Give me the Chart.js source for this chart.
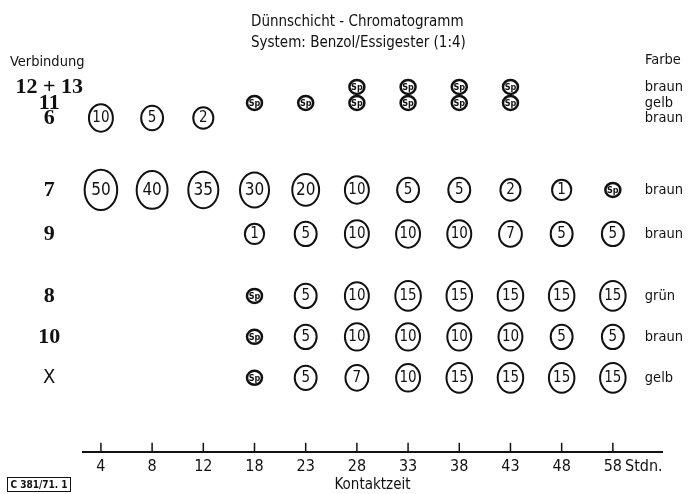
<!DOCTYPE html>
<html>
<head>
<meta charset="utf-8">
<script src="https://cdn.jsdelivr.net/npm/chart.js@4.4.1/dist/chart.umd.min.js"></script>
<style>
  body { margin: 0; background: #fff; }
</style>
</head>
<body>
<canvas id="tlc" width="689" height="494"></canvas>
<script>
// Kontaktzeit in Stunden
const times = ['4', '8', '12', '18', '23', '28', '33', '38', '43', '48', '58'];
const compounds = ['12 + 13', '11', '6', '7', '9', '8', '10', 'X'];
const colours = ['braun', 'gelb', 'braun', 'braun', 'braun', 'grün', 'braun', 'gelb'];
// Laufhöhe der Flecken auf der Platte (0 = Start, 100 = Front)
const rowRf = [91.25, 87.25, 83.5, 65.5, 54.5, 39, 28.75, 18.5];

// Fleckengröße je Kontaktzeit, 'Sp' = Spur
const spots1213 = [null, null, null, null, null, 'Sp', 'Sp', 'Sp', 'Sp', null, null];
const spots11 = [null, null, null, 'Sp', 'Sp', 'Sp', 'Sp', 'Sp', 'Sp', null, null];
const spots6 = [10, 5, 2, null, null, null, null, null, null, null, null];
const spots7 = [50, 40, 35, 30, 20, 10, 5, 5, 2, 1, 'Sp'];
const spots9 = [null, null, null, 1, 5, 10, 10, 10, 7, 5, 5];
const spots8 = [null, null, null, 'Sp', 5, 10, 15, 15, 15, 15, 15];
const spots10 = [null, null, null, 'Sp', 5, 10, 10, 10, 10, 5, 5];
const spotsX = [null, null, null, 'Sp', 5, 7, 10, 15, 15, 15, 15];

const allSpots = [spots1213, spots11, spots6, spots7, spots9, spots8, spots10, spotsX];

const FONT = "'DejaVu Sans Condensed', 'Liberation Sans Narrow', 'DejaVu Sans', sans-serif";
const SERIF = "'Liberation Serif', 'DejaVu Serif', serif";

Chart.defaults.font.family = FONT;
Chart.defaults.color = '#111';

const datasets = allSpots.map((row, r) => ({
  label: compounds[r],
  data: row.map((v, i) => v === null ? null : { x: i, y: rowRf[r], v: v }).filter(p => p),
  pointRadius: 0,
  showLine: false
}));

// circled numbers drawn at the points the scales give
const spotPlugin = {
  id: 'spots',
  afterDatasetsDraw(chart) {
    const ctx = chart.ctx;
    ctx.save();
    ctx.strokeStyle = '#111';
    ctx.fillStyle = '#111';
    ctx.textAlign = 'center';
    ctx.textBaseline = 'middle';
    chart.data.datasets.forEach((ds, d) => {
      chart.getDatasetMeta(d).data.forEach((pt, i) => {
        const v = ds.data[i].v;
        ctx.beginPath();
        if (v === 'Sp') {
          ctx.lineWidth = 2.5;
          ctx.ellipse(pt.x, pt.y, 7.5, 7, 0, 0, Math.PI * 2);
          ctx.stroke();
          ctx.font = "bold 9px " + FONT;
          ctx.fillText('Sp', pt.x, pt.y + 0.5);
        } else {
          const rx = 8.5 + 1.1 * Math.sqrt(v);
          const ry = 8.5 + 1.65 * Math.sqrt(v);
          ctx.lineWidth = 2;
          ctx.ellipse(pt.x, pt.y, rx, ry, 0, 0, Math.PI * 2);
          ctx.stroke();
          ctx.font = (v >= 20 ? '17px ' : '15px ') + FONT;
          ctx.fillText(String(v), pt.x, pt.y + 0.5);
        }
      });
    });
    ctx.restore();
  }
};

// short upward ticks on the time axis + loose text
const extrasPlugin = {
  id: 'extras',
  afterDraw(chart) {
    const ctx = chart.ctx;
    const xs = chart.scales.x;
    const bottom = chart.chartArea.bottom;
    ctx.save();
    ctx.strokeStyle = '#111';
    ctx.lineWidth = 1.5;
    xs.ticks.forEach(t => {
      const px = xs.getPixelForValue(t.value);
      ctx.beginPath();
      ctx.moveTo(px, bottom - 9);
      ctx.lineTo(px, bottom);
      ctx.stroke();
    });

    ctx.fillStyle = '#111';
    ctx.textBaseline = 'middle';
    ctx.textAlign = 'left';
    ctx.font = '15px ' + FONT;
    ctx.fillText('Dünnschicht - Chromatogramm', 251, 22);
    ctx.fillText('System: Benzol/Essigester (1:4)', 251, 43);
    ctx.font = '14.5px ' + FONT;
    ctx.fillText('Verbindung', 10, 62);
    ctx.fillText('Farbe', 645, 60);
    ctx.font = '16px ' + FONT;
    ctx.fillText('Stdn.', 625, 467);

    ctx.lineWidth = 1;
    ctx.strokeRect(7.5, 477.5, 63, 14);
    ctx.font = 'bold 10px ' + FONT;
    ctx.textAlign = 'center';
    ctx.fillText('C 381/71. 1', 39, 485);
    ctx.restore();
  }
};

new Chart(document.getElementById('tlc'), {
  type: 'scatter',
  data: { datasets: datasets },
  plugins: [spotPlugin, extrasPlugin],
  options: {
    responsive: false,
    animation: false,
    events: [],
    layout: { padding: { top: 52, left: 0, right: 0, bottom: 0 } },
    plugins: {
      legend: { display: false },
      tooltip: { enabled: false }
    },
    scales: {
      x: {
        type: 'linear',
        min: -0.35,
        max: 10.96,
        afterBuildTicks: scale => { scale.ticks = times.map((t, i) => ({ value: i })); },
        grid: { display: false, drawTicks: false },
        border: { display: true, color: '#111', width: 2 },
        ticks: {
          autoSkip: false,
          maxRotation: 0,
          padding: 5,
          font: { size: 16 },
          callback: v => times[v]
        },
        title: {
          display: true,
          text: 'Kontaktzeit',
          font: { size: 15 },
          padding: { top: -5, bottom: 0 }
        }
      },
      y: {
        type: 'linear',
        position: 'left',
        min: 0,
        max: 100,
        afterBuildTicks: scale => { scale.ticks = rowRf.map(v => ({ value: v })); },
        afterFit: scale => { scale.width = 83; },
        grid: { display: false, drawTicks: false },
        border: { display: false },
        ticks: {
          autoSkip: false,
          crossAlign: 'center',
          padding: 0,
          font: ctx => ctx.index === 7
            ? { family: FONT, size: 20 }
            : { family: SERIF, size: 22, weight: 'bold' },
          callback: (v, i) => compounds[i]
        }
      },
      y2: {
        type: 'linear',
        position: 'right',
        min: 0,
        max: 100,
        afterBuildTicks: scale => { scale.ticks = rowRf.map(v => ({ value: v })); },
        afterFit: scale => { scale.width = 27; },
        grid: { display: false, drawTicks: false },
        border: { display: false },
        ticks: {
          autoSkip: false,
          mirror: true,
          crossAlign: 'far',
          padding: 21,
          font: { size: 14.5 },
          callback: (v, i) => colours[i]
        }
      }
    }
  }
});
</script>
</body>
</html>
